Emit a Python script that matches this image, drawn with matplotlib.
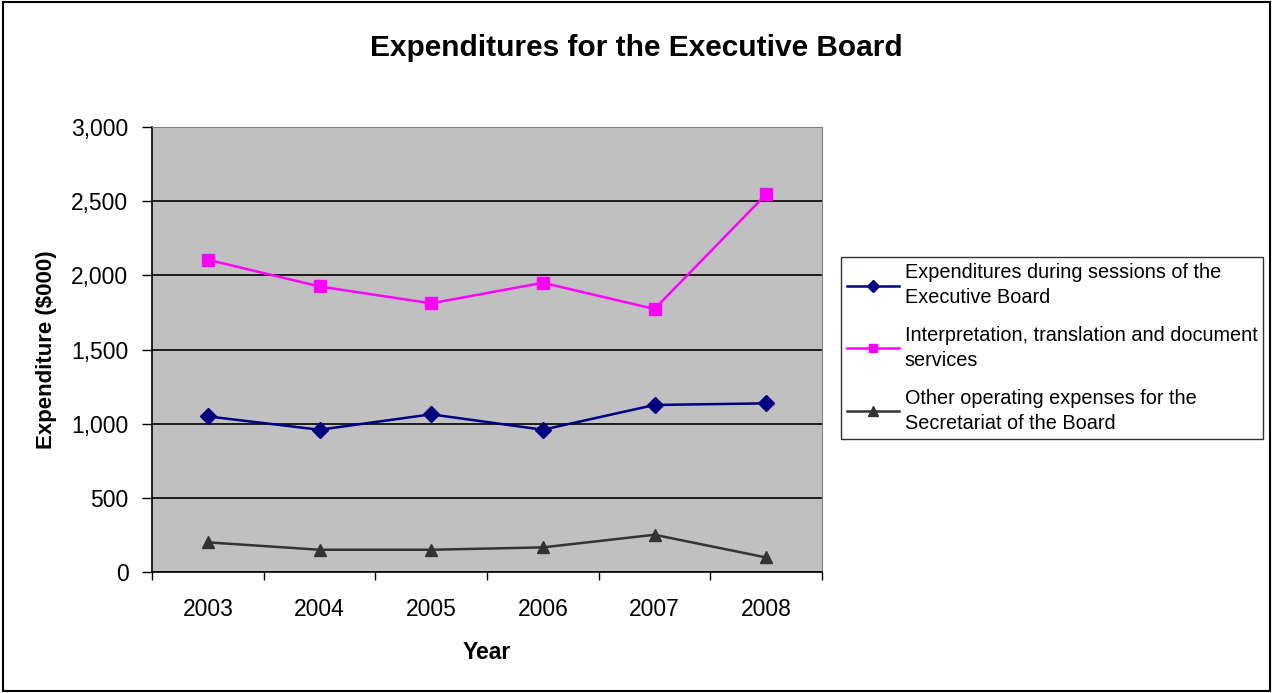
import numpy as np
import matplotlib
matplotlib.use("Agg")
import matplotlib.pyplot as plt
from matplotlib.patches import Rectangle
from matplotlib.ticker import FuncFormatter

plt.rcParams['font.family'] = ['Liberation Sans', 'DejaVu Sans']

years = ["2003", "2004", "2005", "2006", "2007", "2008"]
sessions = [1049, 959, 1063, 959, 1126, 1137]
interpretation = [2105, 1925, 1811, 1950, 1773, 2546]
other_expenses = [200, 150, 150, 166, 251, 98]

labels = ["Expenditures during sessions of the\nExecutive Board",
          "Interpretation, translation and document\nservices",
          "Other operating expenses for the\nSecretariat of the Board"]

fig = plt.figure(figsize=(12.73, 6.93), dpi=100)
ax = fig.add_axes([152 / 1273, 1 - 572 / 693, 670 / 1273, 445 / 693])
ax.set_facecolor("#C0C0C0")

x = np.arange(len(years))
ax.plot(x, sessions, color="#000080", marker="D", markersize=8, lw=1.8, label=labels[0])
ax.plot(x, interpretation, color="#FF00FF", marker="s", markersize=8, lw=1.8, label=labels[1])
ax.plot(x, other_expenses, color="#333333", marker="^", markersize=9, lw=1.8, label=labels[2])

ax.set_xlim(-0.5, len(years) - 0.5)
ax.set_ylim(0, 3000)
ax.set_yticks(np.arange(0, 3001, 500))
ax.yaxis.set_major_formatter(FuncFormatter(lambda v, p: f"{int(v):,}"))
ax.grid(axis="y", color="black", lw=1.2)
ax.set_axisbelow(True)

ax.set_xticks(x)
ax.set_xticklabels(years)
ax.set_xticks(np.arange(-0.5, len(years)), minor=True)
ax.tick_params(axis="x", which="major", length=0, pad=19, labelsize=16.5)
ax.tick_params(axis="x", which="minor", length=6, width=1, direction="out")
ax.tick_params(axis="y", length=7, width=1, direction="out", labelsize=16.5, pad=10)

for s in ["top", "right"]:
    ax.spines[s].set_color("#808080")
for s in ["left", "bottom"]:
    ax.spines[s].set_color("black")
    ax.spines[s].set_linewidth(1.2)

ax.set_xlabel("Year", fontsize=16.5, fontweight="bold", labelpad=14)
ax.set_ylabel("Expenditure ($000)", fontsize=16, fontweight="bold", labelpad=10)
fig.text(0.5, 1 - 48 / 693, "Expenditures for the Executive Board",
         ha="center", va="center", fontsize=21.5, fontweight="bold")

leg = fig.legend(loc="upper left", bbox_to_anchor=(841 / 1273, 1 - 257 / 693),
                 borderaxespad=0, fontsize=14.3, frameon=True, fancybox=False,
                 handlelength=2.6, labelspacing=0.95, borderpad=0.3,
                 handletextpad=0.3, markerscale=0.8)
for t in leg.get_texts():
    t.set_linespacing(1.4)
leg.get_frame().set_edgecolor("black")
leg.get_frame().set_linewidth(1)

fig.add_artist(Rectangle((0.002, 0.003), 0.996, 0.994, transform=fig.transFigure,
                         fill=False, edgecolor="black", lw=1.5))

fig.savefig("out.png", dpi=100)
